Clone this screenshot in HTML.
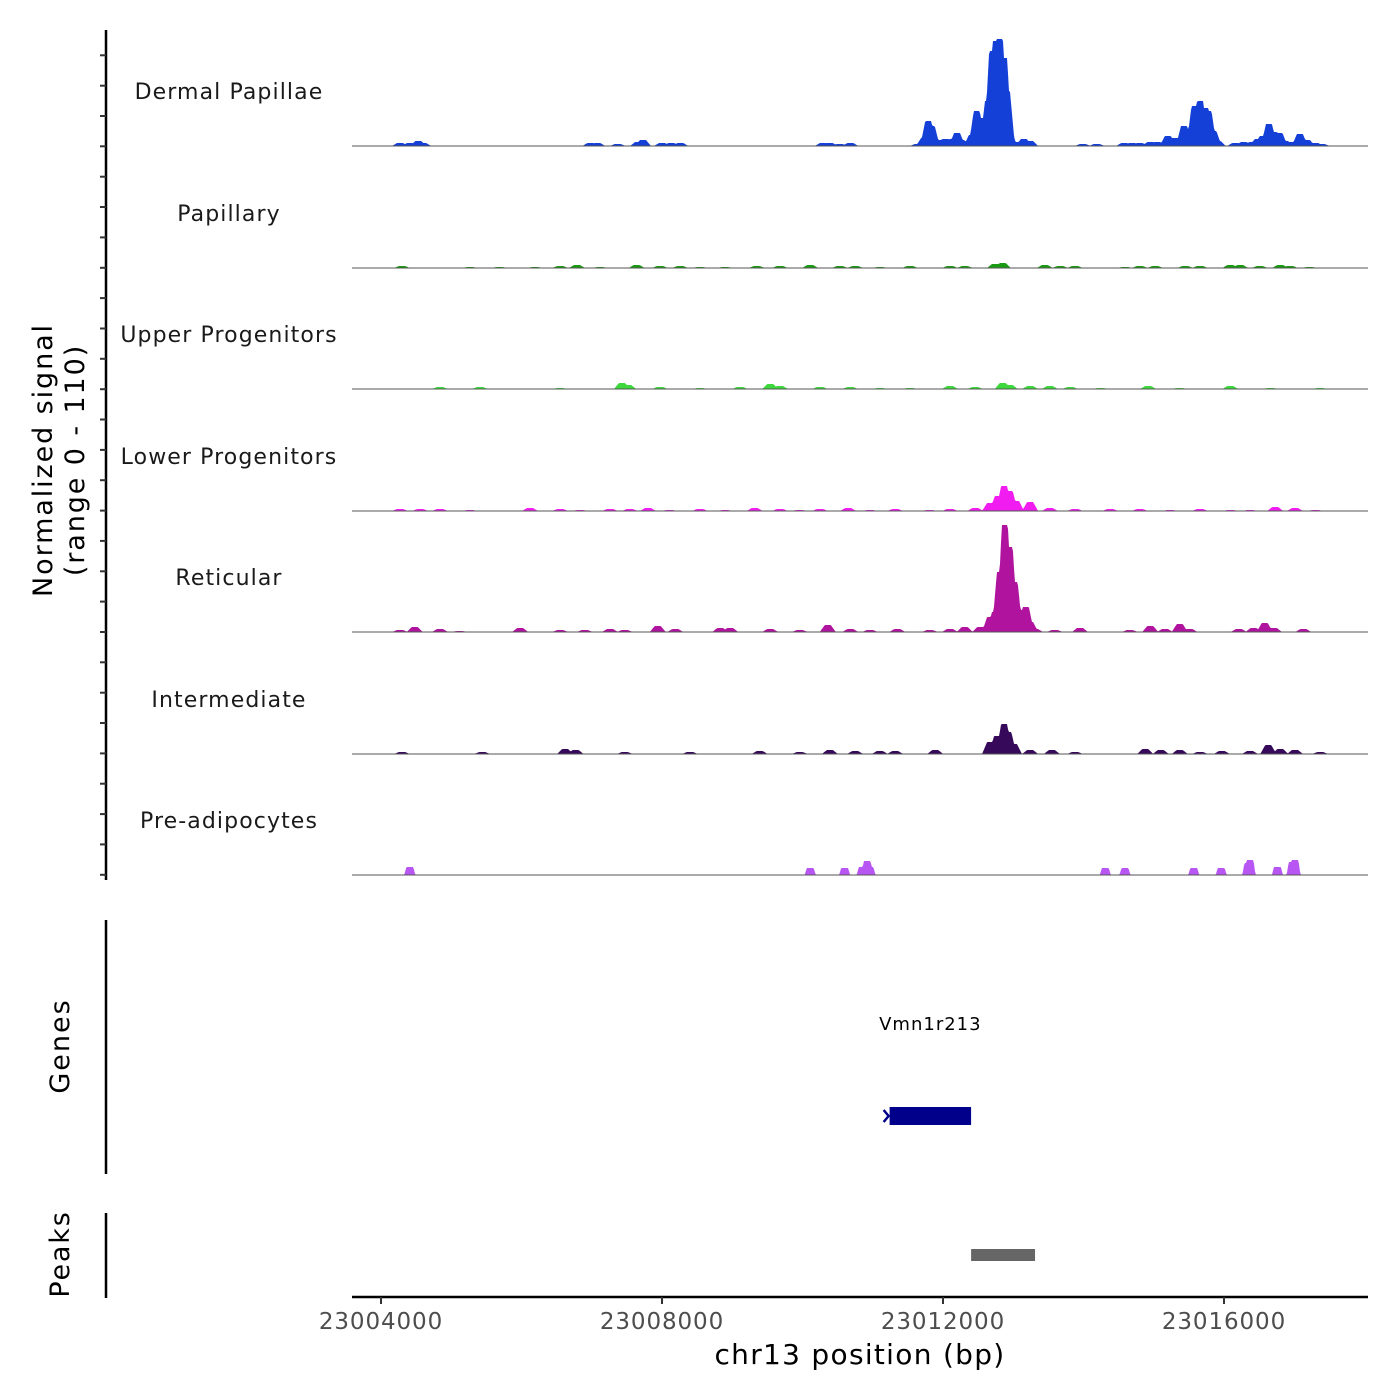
<!DOCTYPE html>
<html><head><meta charset="utf-8"><style>
html,body{margin:0;padding:0;background:#fff;}
svg{display:block;font-family:"DejaVu Sans","Liberation Sans",sans-serif;}
</style></head><body>
<svg id="chart" width="1400" height="1400" viewBox="0 0 1400 1400" xmlns="http://www.w3.org/2000/svg">
<g id="tracks"></g>
<g id="axes"></g>
</svg>
<script>
// genomic positions in kb offset from 23,000,000; values = normalized signal
const trackNames = ["Dermal Papillae","Papillary","Upper Progenitors","Lower Progenitors","Reticular","Intermediate","Pre-adipocytes"];
const trackColors = ["#1440d8","#1a9a12","#3cd83c","#f01cf0","#b0149e","#36095a","#b856f4"];
const xTicks = [23004000,23008000,23012000,23016000];
const xTickLabels = ["23004000","23008000","23012000","23016000"];

const dpPos = [4.27,4.41,4.53,4.60,6.98,7.08,7.37,7.66,7.73,8.00,8.13,8.26,10.29,10.39,10.53,10.68,11.64,11.73,11.79,11.84,11.93,12.03,12.13,12.20,12.26,12.32,12.41,12.48,12.55,12.64,12.70,12.75,12.81,12.87,12.91,12.95,13.05,13.15,13.24,13.99,14.19,14.58,14.69,14.80,14.95,15.05,15.20,15.30,15.43,15.50,15.58,15.66,15.73,15.78,15.85,15.91,16.16,16.28,16.40,16.48,16.55,16.64,16.71,16.79,16.87,16.97,17.08,17.18,17.30,17.39];
const dpVal = [3,3,5,3,3,3,2,4,6,3,3,3,3,3,2,3,2,8,25,20,6,7,7,13,6,3,11,35,28,45,95,105,107,88,55,10,4,7,5,2,2,3,3,3,4,4,10,8,20,17,40,45,38,35,15,5,3,4,4,7,10,22,14,13,5,4,12,6,3,2];

const paPos = [4.30,5.27,5.69,6.19,6.55,6.79,7.12,7.64,7.97,8.26,8.54,8.90,9.35,9.68,10.11,10.53,10.75,11.10,11.53,12.10,12.31,12.74,12.85,13.45,13.67,13.88,14.59,14.80,15.02,15.45,15.66,16.09,16.23,16.51,16.80,16.94,17.22];
const paVal = [2,1,1,1,2,3,1,3,2,2,1,1,2,2,3,2,2,1,2,2,2,4,5,3,2,2,1,2,2,2,2,3,3,2,3,2,1];

const upPos = [4.84,5.41,6.55,7.43,7.52,7.97,8.54,9.11,9.54,9.68,10.25,10.68,11.10,11.53,12.10,12.46,12.85,12.95,13.24,13.52,13.81,14.24,14.92,15.37,16.09,16.66,17.37];
const upVal = [2,2,1,6,4,2,1,2,5,3,2,2,1,1,3,2,6,4,3,3,2,1,3,1,3,1,1];

const lpPos = [4.27,4.56,4.84,5.27,6.12,6.55,6.83,7.26,7.54,7.80,8.11,8.54,8.90,9.32,9.68,9.96,10.25,10.65,10.96,11.32,11.81,12.10,12.46,12.67,12.78,12.87,12.95,13.04,13.24,13.52,13.88,14.38,14.80,15.23,15.66,16.09,16.37,16.73,17.01,17.30];
const lpVal = [2,2,2,1,3,2,1,2,2,3,1,2,1,3,2,1,2,3,1,2,1,2,3,8,15,25,20,10,9,3,2,2,2,1,2,1,1,4,3,1];

const rePos = [4.27,4.48,4.84,5.12,5.98,6.55,6.90,7.26,7.47,7.94,8.19,8.83,8.97,9.54,9.96,10.36,10.68,10.96,11.35,11.81,12.10,12.31,12.53,12.67,12.74,12.81,12.88,12.95,13.02,13.06,13.12,13.18,13.24,13.31,13.59,13.95,14.66,14.95,15.16,15.37,15.51,16.21,16.42,16.58,16.71,17.13];
const reVal = [2,5,3,1,4,2,2,3,2,6,3,4,4,3,2,7,3,2,3,2,3,5,5,15,20,60,107,85,50,25,22,25,10,3,2,4,2,6,3,8,3,3,4,9,4,3];

const inPos = [4.30,5.44,6.62,6.77,7.47,8.40,9.39,9.96,10.39,10.75,11.10,11.32,11.89,12.67,12.77,12.87,12.93,13.01,13.24,13.55,13.88,14.88,15.10,15.37,15.66,15.97,16.37,16.63,16.80,17.01,17.37];
const inVal = [2,2,5,4,2,2,3,2,4,3,3,3,4,12,18,30,22,10,4,4,2,5,4,4,2,3,3,9,5,4,2];

const adPos = [4.41,10.11,10.60,10.85,10.92,10.96,14.31,14.59,15.57,15.96,16.34,16.37,16.76,16.97,17.01];
const adVal = [8,7,7,8,14,8,7,7,7,7,12,15,8,13,15];

const trackPos = [dpPos,paPos,upPos,lpPos,rePos,inPos,adPos];
const trackVal = [dpVal,paVal,upVal,lpVal,reVal,inVal,adVal];

const geneName = "Vmn1r213";
const geneStart = 23011240, geneEnd = 23012400;
const peakStart = 23012400, peakEnd = 23013310;

const NS="http://www.w3.org/2000/svg";
const X0=352, X1=1368;
function xs(bp){ return 381 + (bp-23004000)*281/4000; }
function kbx(kb){ return xs(23000000+kb*1000); }
const baselines=[146,268,389,511,632,754,875];
const yUnit=1.0;
function mk(tag,attrs,parent){ const e=document.createElementNS(NS,tag); for(const k in attrs) e.setAttribute(k,attrs[k]); parent.appendChild(e); return e; }

const tg=document.getElementById('tracks');
for(let t=0;t<7;t++){
  const g=mk('g',{},tg);
  
  
  const base=baselines[t];
  const full = t===6?3.5:3, taper = t===6?2:5;
  const xsPos=trackPos[t].map(kbx);
  let d='M'+X0+','+base;
  for(let x=X0;x<=X1;x+=1){
    let v=0;
    for(let i=0;i<xsPos.length;i++){
      const dx=Math.abs(x-xsPos[i]);
      let f = dx<=full?1:(dx>=full+taper?0:1-(dx-full)/taper);
      v=Math.max(v,f*trackVal[t][i]);
    }
    d+=' L'+x+','+(base-v*yUnit).toFixed(1);
  }
  d+=' L'+X1+','+base+' Z';
  const p=mk('path',{d:d,fill:trackColors[t],stroke:'none'},g);
  
  
  const bl=mk('line',{x1:X0,x2:X1,y1:base,y2:base,stroke:'#555','stroke-width':1},g);
  
  
  const lab=mk('text',{x:229,y:base-47,'text-anchor':'middle','font-size':22,fill:'#1a1a1a','letter-spacing':'1.1'},g);
  lab.textContent=trackNames[t];
  
  
}

const ax=document.getElementById('axes');
let yl=mk('line',{x1:106,x2:106,y1:30,y2:880,stroke:'#000','stroke-width':2.5},ax);
 
for(let y=55.3;y<=880;y+=30.35){
  const tk=mk('line',{x1:100,x2:106,y1:y.toFixed(1),y2:y.toFixed(1),stroke:'#333','stroke-width':2},ax);
   
}
let yt=mk('text',{transform:'translate(52,460) rotate(-90)','text-anchor':'middle','font-size':27,fill:'#000','letter-spacing':'1.9'},ax);
yt.textContent='Normalized signal';  
let yt2=mk('text',{transform:'translate(84,460) rotate(-90)','text-anchor':'middle','font-size':27,fill:'#000','letter-spacing':'1.9'},ax);
yt2.textContent='(range 0 - 110)';  

let gl=mk('line',{x1:106,x2:106,y1:920,y2:1174,stroke:'#000','stroke-width':2.5},ax);
 
let gt=mk('text',{transform:'translate(69,1046) rotate(-90)','text-anchor':'middle','font-size':27,fill:'#000','letter-spacing':'2'},ax);
gt.textContent='Genes';  
let gn=mk('text',{x:(xs(geneStart)+xs(geneEnd))/2,y:1030,'text-anchor':'middle','font-size':18,fill:'#000','letter-spacing':'1'},ax);
gn.textContent=geneName;  
let gb=mk('rect',{x:xs(geneStart),y:1107,width:xs(geneEnd)-xs(geneStart),height:18,fill:'#00008b'},ax);
 
let ga=mk('polyline',{points:(xs(geneStart)-6)+',1110 '+(xs(geneStart)-1)+',1116 '+(xs(geneStart)-6)+',1122',fill:'none',stroke:'#00008b','stroke-width':2.5},ax);
 

let pl=mk('line',{x1:106,x2:106,y1:1213,y2:1298,stroke:'#000','stroke-width':2.5},ax);
 
let pt=mk('text',{transform:'translate(69,1254) rotate(-90)','text-anchor':'middle','font-size':27,fill:'#000','letter-spacing':'1.8'},ax);
pt.textContent='Peaks';  
let pk=mk('rect',{x:xs(peakStart),y:1249,width:xs(peakEnd)-xs(peakStart),height:12,fill:'#666'},ax);
 

let xl=mk('line',{x1:X0,x2:X1,y1:1297,y2:1297,stroke:'#000','stroke-width':2.5},ax);
 
for(let i=0;i<xTicks.length;i++){
  const x=xs(xTicks[i]);
  const tk=mk('line',{x1:x,x2:x,y1:1297,y2:1304,stroke:'#333','stroke-width':2},ax);
   
  const tl=mk('text',{x:x,y:1329,'text-anchor':'middle','font-size':23,fill:'#4d4d4d','letter-spacing':'0.9'},ax);
  tl.textContent=xTickLabels[i];
   
}
let xt=mk('text',{x:860,y:1364,'text-anchor':'middle','font-size':28,fill:'#000','letter-spacing':'1.3'},ax);
xt.textContent='chr13 position (bp)';  
</script>
</body></html>
